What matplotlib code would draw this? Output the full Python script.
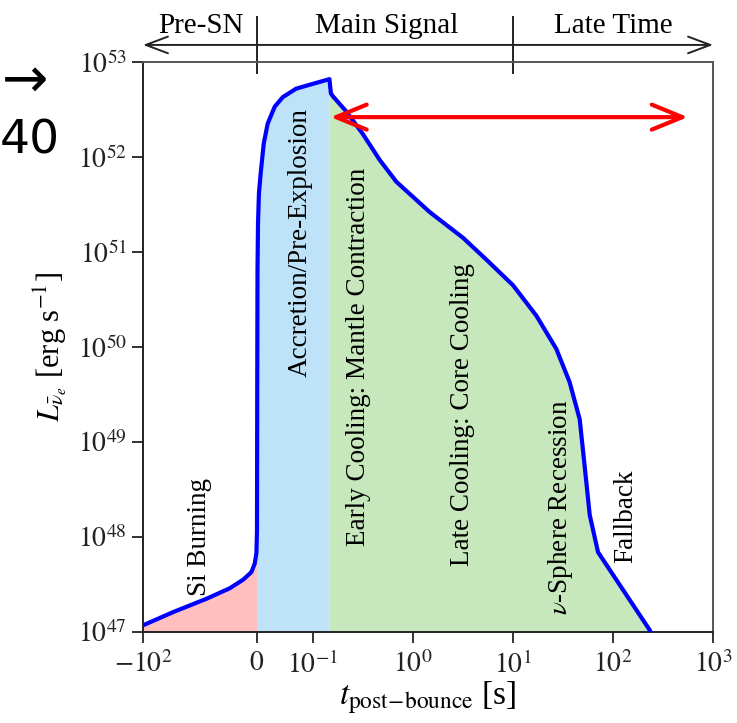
import numpy as np
import matplotlib
matplotlib.use("Agg")
import matplotlib.pyplot as plt
from matplotlib.transforms import blended_transform_factory

# ---------------- data ----------------
time_s = [-100, -73.4, -44.2, -23.9, -12.2, -4.9, -2.0, -0.5, 0.0,
          0.0004, 0.0009, 0.0018, 0.0035, 0.0066, 0.012, 0.019, 0.0316, 0.046, 0.070,
          0.0996, 0.146,
          0.151, 0.158, 0.215, 0.316, 0.464, 0.681, 1.47, 3.16, 5.41, 10.0, 17.1, 27.1,
          36.8, 46.4, 52.1, 58.5, 70.8, 232.6, 300]
log_lum = [47.07, 47.21, 47.35, 47.46, 47.55, 47.63, 47.72, 47.83, 48.07,
           49.5, 50.8, 51.3, 51.62, 51.83, 52.14, 52.35, 52.53, 52.63, 52.72,
           52.77, 52.82,
           52.67, 52.64, 52.48, 52.24, 51.97, 51.74, 51.42, 51.15, 50.92, 50.65, 50.33, 49.98,
           49.63, 49.24, 48.74, 48.23, 47.84, 47.02, 46.78]

phase_edges = [-100, 0.0, 0.146, 300]
phase_colors = ["#ffbfbf", "#bee3f8", "#c6e8bc"]

phase_labels = ["Si Burning", "Accretion/Pre-Explosion", "Early Cooling: Mantle Contraction",
                "Late Cooling: Core Cooling", r"$\nu$-Sphere Recession", "Fallback"]
label_time = [-50, 0.078, 0.285, 3.15, 29.8, 135]
label_logL = [48.0, 51.1, 49.9, 49.29, 48.31, 48.22]

xtick_vals = [-100, 0, 0.1, 1, 10, 100, 1000]
xtick_labels = [r"$-10^2$", r"$0$", r"$10^{-1}$", r"$10^0$", r"$10^1$", r"$10^2$", r"$10^3$"]
ytick_exps = [47, 48, 49, 50, 51, 52, 53]

era_names = ["Pre-SN", "Main Signal", "Late Time"]
era_edges = [-100, 0, 10, 1000]
era_text_x = [-49, 0.54, 100]

arrow_span = [0.15, 560]
arrow_logL = 52.42

# ---------------- custom time axis ----------------
NEG_SPAN = 1.14   # decades used by -100..0
LIN_SPAN = 0.56   # decades used by 0..0.1


def fwd(x):
    x = np.asarray(x, dtype=float)
    with np.errstate(divide="ignore", invalid="ignore"):
        out = np.where(x < 0, x / 100.0 * NEG_SPAN,
                       np.where(x <= 0.1, x / 0.1 * LIN_SPAN,
                                LIN_SPAN + np.log10(np.maximum(x, 1e-300) / 0.1)))
    return out


def inv(u):
    u = np.asarray(u, dtype=float)
    with np.errstate(over="ignore"):
        out = np.where(u < 0, u / NEG_SPAN * 100.0,
                       np.where(u <= LIN_SPAN, u / LIN_SPAN * 0.1,
                                0.1 * 10 ** (u - LIN_SPAN)))
    return out


plt.rcParams["font.family"] = ["Liberation Serif", "DejaVu Serif"]
plt.rcParams["mathtext.fontset"] = "stix"
plt.rcParams["font.size"] = 20

fig = plt.figure(figsize=(7.37, 7.23), dpi=100)
ax = fig.add_axes([0.194, 0.1259, 0.7735, 0.7883])
ax.set_xscale("function", functions=(fwd, inv))
ax.set_yscale("log")

t = np.array(time_s)
L = 10 ** np.array(log_lum)

for i, col in enumerate(phase_colors):
    m = (t >= phase_edges[i]) & (t <= phase_edges[i + 1])
    ax.fill_between(t[m], 1e40, L[m], color=col, lw=0, zorder=1)

ax.plot(t, L, color="#0000ff", lw=3, zorder=3, solid_joinstyle="round")

for lab, lx, ly in zip(phase_labels, label_time, label_logL):
    ax.text(lx, 10 ** ly, lab, rotation=90, ha="center", va="center", fontsize=19.5, zorder=4)

ax.annotate("", xy=(arrow_span[1], 10 ** arrow_logL), xytext=(arrow_span[0], 10 ** arrow_logL),
            arrowprops=dict(arrowstyle="<->,head_length=1.1,head_width=0.45", color="red", lw=3,
                            shrinkA=0, shrinkB=0), zorder=5)

ax.set_xlim(-100, 1000)
ax.set_ylim(1e47, 1e53)
ax.set_xticks(xtick_vals)
ax.set_xticklabels(xtick_labels)
ax.set_yticks([10.0 ** e for e in ytick_exps])
ax.set_yticklabels([r"$10^{%d}$" % e for e in ytick_exps])
ax.xaxis.set_minor_locator(matplotlib.ticker.NullLocator())
ax.yaxis.set_minor_locator(matplotlib.ticker.NullLocator())
ax.tick_params(direction="out", length=8, width=1.3, labelsize=20, colors="#222222")
ax.tick_params(axis="x", pad=6)
for s in ["left", "bottom"]:
    ax.spines[s].set_color("#222222")
    ax.spines[s].set_linewidth(1.4)
for s in ["top", "right"]:
    ax.spines[s].set_color("#555555")
    ax.spines[s].set_linewidth(1.4)

ax.set_xlabel(r"$t_{\rm post\!-\!bounce}$ [s]", fontsize=24, labelpad=0)
ax.set_ylabel(r"$L_{\bar{\nu}_e}$ [erg s$^{-1}$]", fontsize=22, labelpad=6)

# era bar above the axes
tr = blended_transform_factory(ax.transData, ax.transAxes)
ybar = 1.03
ax.annotate("", xy=(era_edges[0], ybar), xytext=(era_edges[1], ybar), xycoords=tr, textcoords=tr,
            arrowprops=dict(arrowstyle="->,head_length=0.8,head_width=0.3", color="#222222", lw=1.4,
                            shrinkA=0, shrinkB=0))
ax.annotate("", xy=(era_edges[3], ybar), xytext=(era_edges[1], ybar), xycoords=tr, textcoords=tr,
            arrowprops=dict(arrowstyle="->,head_length=0.8,head_width=0.3", color="#222222", lw=1.4,
                            shrinkA=0, shrinkB=0))
for xe in era_edges[1:3]:
    ax.plot([xe, xe], [0.981, 1.079], transform=tr, color="#222222", lw=1.4, clip_on=False)
for name, xt in zip(era_names, era_text_x):
    ax.text(xt, 1.063, name, transform=tr, ha="center", va="center", fontsize=21)

# stray glyphs at the left edge of the picture
fig.text(48 / 737, 1 - 82 / 723, "\u2192", family="DejaVu Sans", fontsize=40, ha="right", va="center")
fig.text(0.0, 1 - 141 / 723, "40", family="DejaVu Sans", fontsize=34, ha="left", va="center")

fig.savefig("out.png", dpi=100)
